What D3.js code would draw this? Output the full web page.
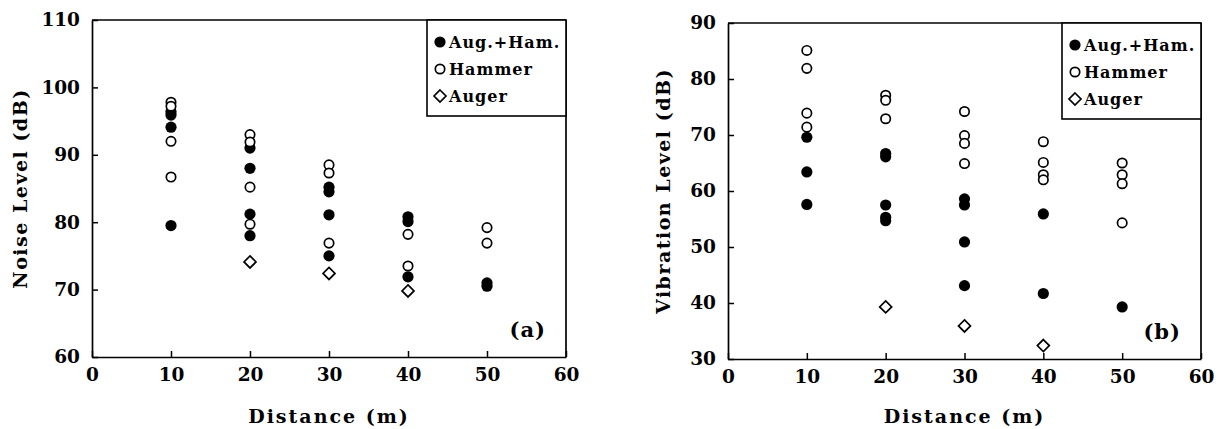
<!DOCTYPE html>
<html>
<head>
<meta charset="utf-8">
<script src="https://cdn.jsdelivr.net/npm/d3@7"></script>
<style>
  body { margin: 0; background: #fff; }
  svg { display: block; }
  text { font-family: "DejaVu Serif", "Liberation Serif", serif; font-weight: bold; fill: #000; }
</style>
</head>
<body>
<div id="chart"></div>
<script>
// distances (m)
const distTicks = [0, 10, 20, 30, 40, 50, 60];

// (a) noise level (dB): [distance, value]
const noiseAugHam = [[10, 96.4], [10, 95.9], [10, 94.1], [10, 79.5],
  [20, 91.0], [20, 88.0], [20, 81.2], [20, 78.0],
  [30, 85.2], [30, 84.5], [30, 81.1], [30, 75.0],
  [40, 80.8], [40, 80.1], [40, 71.9],
  [50, 71.0], [50, 70.5]];
const noiseHammer = [[10, 97.8], [10, 97.2], [10, 92.0], [10, 86.7],
  [20, 93.0], [20, 91.9], [20, 85.2], [20, 79.7],
  [30, 88.5], [30, 87.3], [30, 76.9],
  [40, 78.2], [40, 73.5],
  [50, 79.2], [50, 76.9]];
const noiseAuger = [[20, 74.1], [30, 72.4], [40, 69.8]];
const noiseTicks = [60, 70, 80, 90, 100, 110];

// (b) vibration level (dB)
const vibAugHam = [[10, 69.6], [10, 63.4], [10, 57.6],
  [20, 66.7], [20, 66.1], [20, 57.5], [20, 55.3], [20, 54.7],
  [30, 58.6], [30, 57.5], [30, 50.9], [30, 43.1],
  [40, 55.9], [40, 41.7],
  [50, 39.3]];
const vibHammer = [[10, 85.1], [10, 81.9], [10, 73.9], [10, 71.4],
  [20, 77.1], [20, 76.2], [20, 72.9],
  [30, 74.2], [30, 69.9], [30, 68.5], [30, 64.9],
  [40, 68.8], [40, 65.1], [40, 62.9], [40, 62.0],
  [50, 65.0], [50, 62.9], [50, 61.3], [50, 54.3]];
const vibAuger = [[20, 39.3], [30, 35.9], [40, 32.4]];
const vibTicks = [30, 40, 50, 60, 70, 80, 90];

const legendNames = ["Aug.+Ham.", "Hammer", "Auger"];

const svg = d3.select("#chart").append("svg")
  .attr("width", 1222)
  .attr("height", 429);

function drawMarker(g, kind, x, y) {
  if (kind === 0) {
    g.append("circle").attr("cx", x).attr("cy", y).attr("r", 5.6)
      .attr("fill", "#000");
  } else if (kind === 1) {
    g.append("circle").attr("cx", x).attr("cy", y).attr("r", 4.7)
      .attr("fill", "#fff").attr("stroke", "#000").attr("stroke-width", 1.7);
  } else {
    g.append("path")
      .attr("d", `M${x},${y - 6}L${x + 6},${y}L${x},${y + 6}L${x - 6},${y}Z`)
      .attr("fill", "#fff").attr("stroke", "#000").attr("stroke-width", 1.7);
  }
}

function painel(opts) {
  const { left, top, right, bottom, yDomain, yTicks, series, yTitle, tag, yTitleX } = opts;
  const g = svg.append("g");

  const x = d3.scaleLinear().domain([0, 60]).range([left, right]);
  const y = d3.scaleLinear().domain(yDomain).range([bottom, top]);

  // frame top and right
  g.append("line").attr("x1", left).attr("x2", right).attr("y1", top).attr("y2", top)
    .attr("stroke", "#000").attr("stroke-width", 1.7);
  g.append("line").attr("x1", right).attr("x2", right).attr("y1", top).attr("y2", bottom)
    .attr("stroke", "#000").attr("stroke-width", 1.7);

  // axes with inward ticks
  const ax = g.append("g").attr("transform", `translate(0,${bottom})`)
    .call(d3.axisBottom(x).tickValues(distTicks).tickSizeInner(-6).tickSizeOuter(0).tickPadding(11));
  const ay = g.append("g").attr("transform", `translate(${left},0)`)
    .call(d3.axisLeft(y).tickValues(yTicks).tickSizeInner(-6).tickSizeOuter(0).tickPadding(12));
  [ax, ay].forEach(a => {
    a.select(".domain").attr("stroke-width", 1.7);
    a.selectAll(".tick line").attr("stroke-width", 1.5);
    a.selectAll(".tick text").style("font-size", "18.5px")
      .style("font-family", "'DejaVu Serif', serif").style("font-weight", "bold");
  });

  // points
  const pts = g.append("g");
  series.forEach((s, k) => {
    s.forEach(d => drawMarker(pts, k, x(d[0]), y(d[1])));
  });

  // legend
  const lw = 139, lh = 96;
  const lg = g.append("g").attr("transform", `translate(${right - lw},${top})`);
  lg.append("rect").attr("width", lw).attr("height", lh)
    .attr("fill", "#fff").attr("stroke", "#000").attr("stroke-width", 1.6);
  legendNames.forEach((n, i) => {
    const ly = 22 + i * 27;
    drawMarker(lg, i, 13, ly);
    lg.append("text").attr("x", 22).attr("y", ly + 6)
      .style("font-size", "16px").style("letter-spacing", "1px").text(n);
  });

  // axis titles
  g.append("text")
    .attr("x", x(30)).attr("y", 423)
    .attr("text-anchor", "middle")
    .style("font-size", "19px").style("letter-spacing", "2px")
    .text("Distance (m)");
  g.append("text")
    .attr("transform", `translate(${yTitleX},${(top + bottom) / 2}) rotate(-90)`)
    .attr("text-anchor", "middle")
    .style("font-size", "19px").style("letter-spacing", "1.5px")
    .text(yTitle);

  // panel tag
  g.append("text")
    .attr("x", right - 20).attr("y", bottom - 20)
    .attr("text-anchor", "end")
    .style("font-size", "21px").style("letter-spacing", "1px")
    .text(tag);
}

painel({
  left: 92, top: 20, right: 566, bottom: 357,
  yDomain: [60, 110], yTicks: noiseTicks,
  series: [noiseAugHam, noiseHammer, noiseAuger],
  yTitle: "Noise Level (dB)", tag: "(a)", yTitleX: 27
});

painel({
  left: 728, top: 23, right: 1201, bottom: 359,
  yDomain: [30, 90], yTicks: vibTicks,
  series: [vibAugHam, vibHammer, vibAuger],
  yTitle: "Vibration Level (dB)", tag: "(b)", yTitleX: 670
});
</script>
</body>
</html>
